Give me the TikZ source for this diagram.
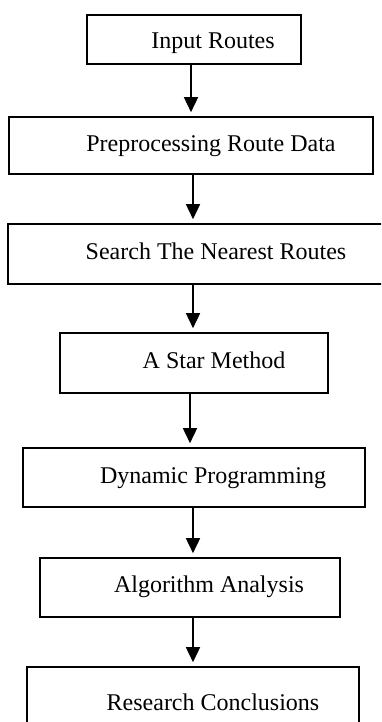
\documentclass[tikz,border=0pt]{standalone}
\usepackage{fontspec}
\setmainfont{Liberation Serif}
\usetikzlibrary{arrows.meta}
\begin{document}
\begin{tikzpicture}[x=1pt,y=-1pt,
  boxst/.style={draw,line width=1.6pt,rectangle,inner sep=0pt},
  txt/.style={anchor=base,inner sep=0pt,font=\fontsize{24}{28}\selectfont},
  arr/.style={line width=1.6pt,-{Triangle[width=14pt,length=15pt]},shorten >=4pt}]
\useasboundingbox (0,0) rectangle (381,722);
\clip (0,0) rectangle (381,722);
\node[boxst,minimum width=214pt,minimum height=49pt] (b1) at (194,39.5) {};
\node[boxst,minimum width=364pt,minimum height=57pt] (b2) at (191,145.5) {};
\node[boxst,minimum width=376pt,minimum height=60pt] (b3) at (196,254) {};
\node[boxst,minimum width=268pt,minimum height=60pt] (b4) at (194,363) {};
\node[boxst,minimum width=342pt,minimum height=59pt] (b5) at (194,477.5) {};
\node[boxst,minimum width=300pt,minimum height=59pt] (b6) at (190,587.5) {};
\node[boxst,minimum width=332pt,minimum height=60pt] (b7) at (193,697) {};
\node[txt] (t1) at (213,49) {Input Routes};
\node[txt] (t2) at (211,152) {Preprocessing Route Data};
\node[txt] (t3) at (216,259) {Search The Nearest Routes};
\node[txt] (t4) at (214,368) {A Star Method};
\node[txt] (t5) at (213,483) {Dynamic Programming};
\node[txt] (t6) at (209,592) {Algorithm Analysis};
\node[txt] (t7) at (213,710) {Research Conclusions};
\coordinate (ax1) at (191,0);
\coordinate (ax) at (193,0);
\coordinate (ax4) at (190,0);
\draw[arr] (b1.south -| ax1) -- (b2.north -| ax1);
\draw[arr] (b2.south -| ax) -- (b3.north -| ax);
\draw[arr] (b3.south -| ax) -- (b4.north -| ax);
\draw[arr] (b4.south -| ax4) -- (b5.north -| ax4);
\draw[arr] (b5.south -| ax) -- (b6.north -| ax);
\draw[arr] (b6.south -| ax) -- (b7.north -| ax);
\end{tikzpicture}
\end{document}
